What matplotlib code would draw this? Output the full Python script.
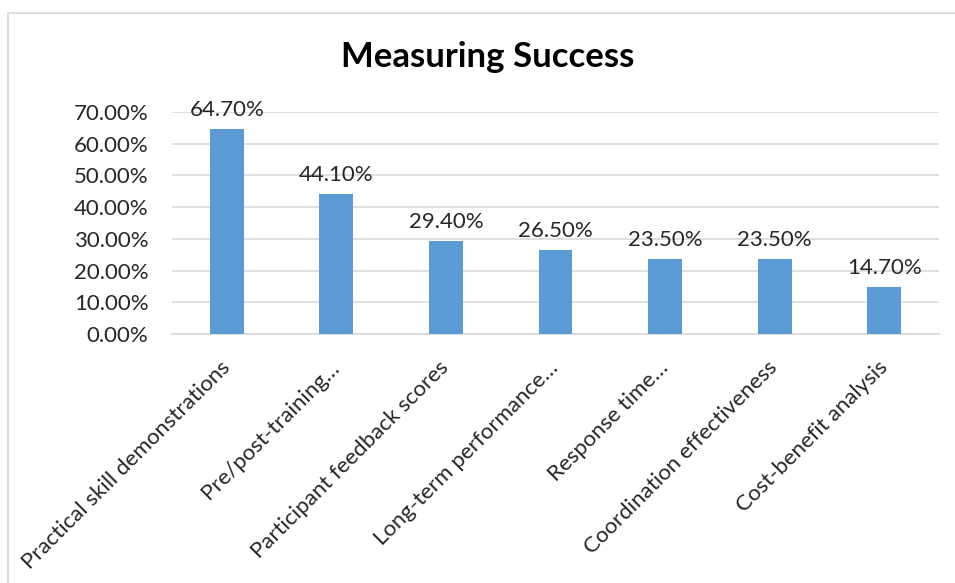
import numpy as np
import matplotlib
matplotlib.use("Agg")
import matplotlib.pyplot as plt
from matplotlib.patches import Rectangle

plt.rcParams['font.family'] = ['Lato', 'DejaVu Sans']

categories = [
    "Practical skill demonstrations",
    "Pre/post-training\u2026",
    "Participant feedback scores",
    "Long-term performance\u2026",
    "Response time\u2026",
    "Coordination effectiveness",
    "Cost-benefit analysis",
]
values = [0.647, 0.441, 0.294, 0.265, 0.235, 0.235, 0.147]
y_ticks = [0.0, 0.1, 0.2, 0.3, 0.4, 0.5, 0.6, 0.7]

W, H = 955, 583
fig = plt.figure(figsize=(W / 100, H / 100), dpi=100)

# chart border (cropped on the right and bottom like the screenshot)
fig.patches.append(Rectangle((8 / W, -0.1), 1.2, 1 - 13 / H + 0.1,
                             transform=fig.transFigure, fill=False,
                             edgecolor='#D9D9D9', linewidth=1.3))

ax = fig.add_axes([172 / W, 1 - 334 / H, (939 - 172) / W, (334 - 112) / H])

x = np.arange(len(categories))
ax.bar(x, values, width=0.31, color='#5B9BD5', zorder=3)

for xi, v in zip(x, values):
    ax.text(xi, v + 0.06, f"{v * 100:.2f}%", ha='center', va='center',
            fontsize=16, color='#262626')

ax.set_xlim(-0.5, len(categories) - 0.5)
ax.set_ylim(0, 0.7)
ax.set_yticks(y_ticks)
ax.set_yticklabels([f"{t * 100:.2f}%" for t in y_ticks], fontsize=16, color='#262626')
ax.yaxis.grid(True, color='#D9D9D9', linewidth=1.2, zorder=0)
ax.tick_params(axis='y', length=0, pad=17)

ax.set_xticks(x)
ax.set_xticklabels(categories, rotation=45, ha='right', va='center',
                   rotation_mode='anchor', fontsize=16, color='#262626')
ax.tick_params(axis='x', length=0, pad=22)

for s in ['top', 'right', 'left']:
    ax.spines[s].set_visible(False)
ax.spines['bottom'].set_color('#D9D9D9')
ax.spines['bottom'].set_linewidth(1.2)

fig.text(488 / W, 1 - 57 / H, "Measuring Success", ha='center', va='center',
         fontsize=25, fontweight='bold', color='black')

fig.savefig("out.png", dpi=100)
